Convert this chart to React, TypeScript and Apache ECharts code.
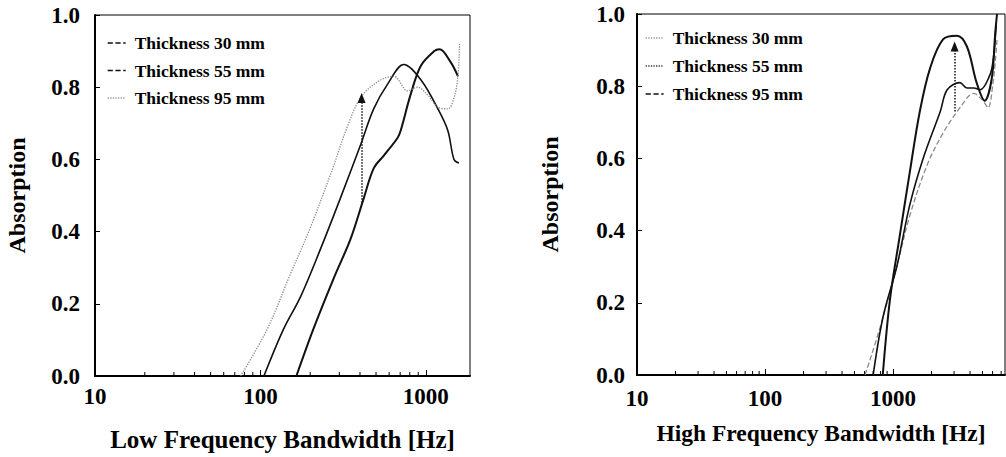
import React, { useEffect, useRef } from "react";
import * as echarts from "echarts";

// ---- data (frequency Hz, absorption) ----
const lowNames = ["Thickness 30 mm", "Thickness 55 mm", "Thickness 95 mm"];
const highNames = ["Thickness 30 mm ", "Thickness 55 mm ", "Thickness 95 mm "];

const low30: number[][] = [[165, 0], [209, 0.13], [277, 0.27], [351, 0.38], [420, 0.49], [484, 0.575], [556, 0.61], [676, 0.66], [705, 0.68], [810, 0.78], [935, 0.86], [1125, 0.9], [1210, 0.905], [1410, 0.87], [1565, 0.83]];
const low55: number[][] = [[105, 0], [138, 0.13], [175, 0.22], [230, 0.35], [303, 0.49], [403, 0.64], [484, 0.74], [590, 0.81], [736, 0.863], [935, 0.82], [1183, 0.74], [1358, 0.68], [1480, 0.6], [1585, 0.59]];
const low95: number[][] = [[76, 0], [110, 0.13], [151, 0.28], [200, 0.41], [276, 0.58], [335, 0.69], [409, 0.775], [533, 0.82], [640, 0.83], [777, 0.79], [890, 0.8], [1020, 0.78], [1183, 0.745], [1358, 0.74], [1480, 0.77], [1563, 0.83], [1600, 0.92]];

const high30: number[][] = [[605, 0], [790, 0.13], [1070, 0.3], [1350, 0.44], [1840, 0.58], [2460, 0.67], [3330, 0.74], [4270, 0.78], [5050, 0.76], [5530, 0.74], [6050, 0.81], [6300, 0.87], [6500, 0.93]];
const high55: number[][] = [[700, 0], [835, 0.16], [1070, 0.3], [1350, 0.47], [1720, 0.6], [2340, 0.73], [2650, 0.79], [3330, 0.81], [3780, 0.795], [4270, 0.795], [4800, 0.79], [5700, 0.83], [6050, 0.87], [6400, 0.97]];
const high95: number[][] = [[832, 0], [948, 0.21], [1135, 0.39], [1350, 0.56], [1620, 0.73], [1950, 0.85], [2460, 0.93], [3160, 0.94], [3780, 0.91], [4500, 0.81], [5200, 0.76], [5900, 0.82], [6300, 0.95], [6500, 1.0]];

// arrows (dotted line with triangle head)
const lowArrow: number[][] = [[409, 0.48], [409, 0.77]];
const highArrow: number[][] = [[3030, 0.73], [3030, 0.91]];

const lowMinorTicks = [20, 30, 40, 50, 60, 70, 80, 90, 200, 300, 400, 500, 600, 700, 800, 900];
const highMinorTicks = [20, 30, 40, 50, 60, 70, 80, 90, 200, 300, 400, 500, 600, 700, 800, 900, 2000, 3000, 4000, 5000, 6000, 7000];

const FONT = '"Liberation Serif", "Times New Roman", serif';

export default function App() {
  const ref = useRef<HTMLDivElement>(null);
  useEffect(() => {
    document.body.style.margin = "0";
    if (!ref.current) return;
    const chart = echarts.init(ref.current, null, { renderer: "svg" });
    const labelStyle = { fontFamily: FONT, fontWeight: "bold" as const, fontSize: 23, color: "#000" };
    const nameStyle = (size: number) => ({ fontFamily: FONT, fontWeight: "bold" as const, fontSize: size, color: "#000" });
    const xFormatter = (v: number) => {
      const l = Math.log10(v);
      return Math.abs(l - Math.round(l)) < 1e-6 ? String(Math.round(v)) : "";
    };
    const mkX = (gi: number, max: number, name: string, nameGap: number, margin: number, nameSize: number) => ({
      type: "log",
      logBase: 10,
      gridIndex: gi,
      min: 10,
      max,
      name,
      nameLocation: "middle",
      nameGap,
      nameTextStyle: nameStyle(nameSize),
      axisLine: { lineStyle: { color: "#000", width: 2 } },
      axisTick: { inside: true, length: 6, lineStyle: { color: "#000" } },
      axisLabel: { ...labelStyle, margin, formatter: xFormatter, showMaxLabel: false },
      splitLine: { show: false },
    });
    const mkY = (gi: number, nameGap: number, margin: number) => ({
      type: "value",
      gridIndex: gi,
      min: 0,
      max: 1,
      interval: 0.2,
      name: "Absorption",
      nameLocation: "middle",
      nameGap,
      nameTextStyle: nameStyle(24),
      axisLine: { show: true, lineStyle: { color: "#000", width: 2 } },
      axisTick: { inside: true, length: 5, lineStyle: { color: "#000" } },
      axisLabel: { ...labelStyle, margin, formatter: (v: number) => v.toFixed(1) },
      splitLine: { show: false },
    });
    const minorSeries = (idx: number, ticks: number[]) => ({
      type: "custom",
      xAxisIndex: idx,
      yAxisIndex: idx,
      silent: true,
      clip: false,
      z: 10,
      data: ticks.map((t) => [t, 0]),
      renderItem: (_p: any, api: any) => {
        const p = api.coord([api.value(0), 0]);
        return {
          type: "line",
          shape: { x1: p[0], y1: p[1] - 1, x2: p[0], y2: p[1] - 4 },
          style: { stroke: "#000", lineWidth: 1 },
        };
      },
    });
    const arrowMark = (pts: number[][]) => ({
      silent: true,
      symbol: ["none", "triangle"],
      symbolSize: [8, 10],
      label: { show: false },
      lineStyle: { type: "dotted", color: "#111", width: 1.5 },
      data: [[{ coord: pts[0] }, { coord: pts[1] }]],
    });
    const line = (idx: number, name: string, data: number[][], color: string, width: number, type: string, extra: any = {}) => ({
      type: "line",
      name,
      xAxisIndex: idx,
      yAxisIndex: idx,
      data,
      symbol: "none",
      smooth: 0.35,
      lineStyle: { color, width, type },
      itemStyle: { color },
      ...extra,
    });
    const hidden = { color: "rgba(0,0,0,0)", borderColor: "rgba(0,0,0,0)", borderWidth: 0, opacity: 0 };
    const legendText = { fontFamily: FONT, fontWeight: "bold" as const, fontSize: 17.5, color: "#000", padding: [0, 0, 0, 4] };
    const legendItem = (name: string, type: string, color: string) => ({
      name,
      itemStyle: hidden,
      lineStyle: { type, color, width: 1.3, opacity: 1 },
    });
    const option: any = {
      animation: false,
      backgroundColor: "#fff",
      grid: [
        { left: 95, top: 15, width: 375, height: 365, show: true, borderColor: "#000", borderWidth: 1 },
        { left: 637, top: 14, width: 368, height: 361, show: true, borderColor: "#000", borderWidth: 1 },
      ],
      xAxis: [
        mkX(0, 1850, "Low Frequency Bandwidth [Hz]", 51, 9, 25),
        mkX(1, 7500, "High Frequency Bandwidth [Hz]", 46, 12, 23.5),
      ],
      yAxis: [mkY(0, 66, 15), mkY(1, 75, 12)],
      legend: [
        {
          orient: "vertical",
          left: 102,
          top: 29,
          itemWidth: 18,
          itemHeight: 14,
          itemGap: 9.5,
          textStyle: legendText,
          data: [
            legendItem(lowNames[0], "dashed", "#111"),
            legendItem(lowNames[1], "dashed", "#111"),
            legendItem(lowNames[2], "dotted", "#999"),
          ],
        },
        {
          orient: "vertical",
          left: 640,
          top: 24,
          itemWidth: 18,
          itemHeight: 14,
          itemGap: 10,
          textStyle: legendText,
          data: [
            legendItem(highNames[0], "dotted", "#999"),
            legendItem(highNames[1], "dotted", "#333"),
            legendItem(highNames[2], "dashed", "#111"),
          ],
        },
      ],
      series: [
        line(0, lowNames[0], low30, "#111", 2, "solid"),
        line(0, lowNames[1], low55, "#111", 1.6, "solid"),
        line(0, lowNames[2], low95, "#8a8a8a", 1.3, "dotted", { markLine: arrowMark(lowArrow) }),
        line(1, highNames[0], high30, "#8a8a8a", 1.3, "dashed"),
        line(1, highNames[1], high55, "#111", 1.6, "solid"),
        line(1, highNames[2], high95, "#111", 2, "solid", { markLine: arrowMark(highArrow) }),
        minorSeries(0, lowMinorTicks),
        minorSeries(1, highMinorTicks),
      ],
    };
    chart.setOption(option);
    return () => chart.dispose();
  }, []);
  return <div ref={ref} style={{ width: 1006, height: 457 }} />;
}
